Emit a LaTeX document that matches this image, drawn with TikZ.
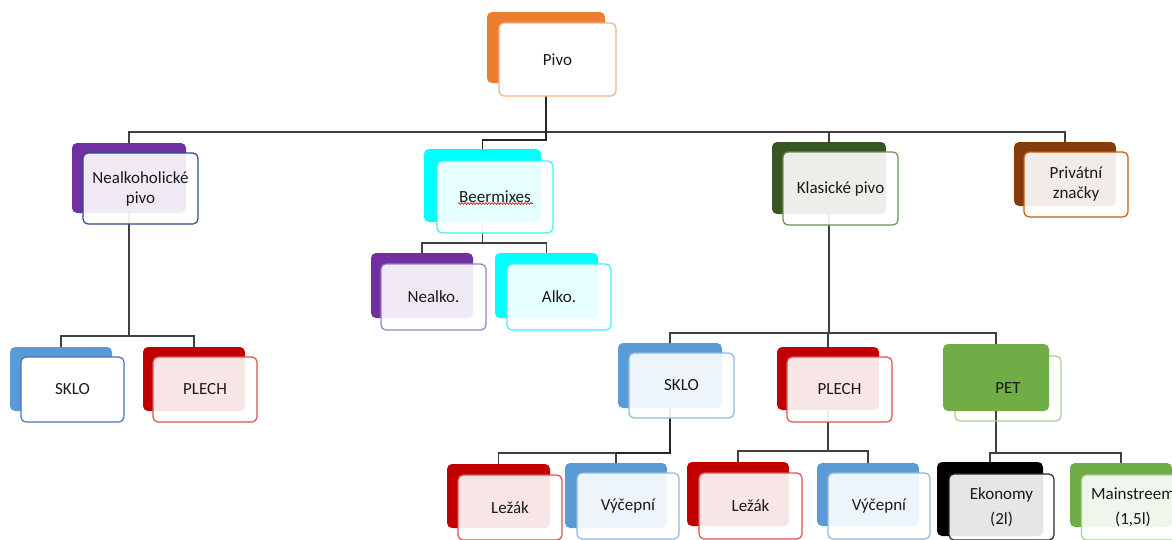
\documentclass[tikz,border=0pt]{standalone}
\usepackage{fontspec}
\setmainfont{Carlito}
\usetikzlibrary{decorations.pathmorphing}
\pgfdeclarelayer{background}
\pgfsetlayers{background,main}

\definecolor{cOrange}{HTML}{ED7D31}
\definecolor{bOrange}{HTML}{F4B183}
\definecolor{cPurple}{HTML}{7030A0}
\definecolor{bNavy}{HTML}{2F4A85}
\definecolor{bPurple}{HTML}{A07CC8}
\definecolor{cCyan}{HTML}{00FFFF}
\definecolor{bCyan}{HTML}{3DF2F2}
\definecolor{cDkGreen}{HTML}{375623}
\definecolor{bOlive}{HTML}{6A9153}
\definecolor{cBrown}{HTML}{843C0C}
\definecolor{bBrown}{HTML}{C55A11}
\definecolor{cBlue}{HTML}{5B9BD5}
\definecolor{bBlue}{HTML}{4472C4}
\definecolor{bLtBlue}{HTML}{8DB8E2}
\definecolor{cRed}{HTML}{C00000}
\definecolor{bRed}{HTML}{E05050}
\definecolor{cGreen}{HTML}{70AD47}
\definecolor{bLtGreen}{HTML}{A9D18E}
\definecolor{bDark}{HTML}{2A2A2A}
\definecolor{txt}{HTML}{1A1A1A}
\definecolor{wire}{HTML}{404040}

\begin{document}
\begin{tikzpicture}[x=1pt,y=-1pt,
  sz/.style 2 args={minimum width=#1pt,minimum height=#2pt},
  back/.style={rounded corners=5pt,inner sep=0pt,fill=#1,draw=none},
  front/.style={rounded corners=5pt,inner sep=0pt,draw=#1,line width=1.2pt,
    fill=white,fill opacity=0.9,text opacity=1,align=center,text=txt,
    font=\fontsize{17}{20}\selectfont},
  solidfront/.style={front=#1,fill opacity=1},
  hollowfront/.style={front=#1,fill=none},
  conn/.style={draw=wire,line width=1.3pt},
  trunk/.style={draw=black!85,line width=1.7pt},
  spell/.style={draw=red!85!black,line width=0.6pt,
    decorate,decoration={snake,amplitude=0.9pt,segment length=3pt}}]

\clip (0,0) rectangle (1172,539);
\useasboundingbox (0,0) rectangle (1172,539);

% bus heights of the connector trees
\coordinate (busA)  at (0,132);
\coordinate (busA2) at (0,140);
\coordinate (busB)  at (0,243);
\coordinate (busC)  at (0,336);
\coordinate (busD)  at (0,333);
\coordinate (busE)  at (0,453);
\coordinate (busF)  at (0,451);
\coordinate (busG)  at (0,453);

% ---------- level 0
\node[back=cOrange,sz={118}{71}] (pivo-b) at (546,47.5) {};
\node[solidfront=bOrange,sz={117}{73}] (pivo) at (557.5,59.5) {Pivo};

% ---------- level 1
\node[back=cPurple,sz={114}{70}] (nealk-b) at (129,178) {};
\node[front=bNavy,sz={115}{71}] (nealk) at (140.5,188.5) {Nealkoholické\\pivo};

\node[back=cCyan,sz={117}{73}] (beer-b) at (482.5,185.5) {};
\node[front=bCyan,sz={116}{72}] (beer) at (495,197) {Beermixes};
\draw[spell] ([xshift=-37pt,yshift=-6.5pt]beer.center) -- ([xshift=38pt,yshift=-6.5pt]beer.center);

\node[back=cDkGreen,sz={114}{72}] (klas-b) at (829,178) {};
\node[front=bOlive,sz={115}{73}] (klas) at (840.5,188.5) {Klasické pivo};

\node[back=cBrown,sz={102}{64}] (priv-b) at (1065,174) {};
\node[front=bBrown,sz={104}{65}] (priv) at (1076,184.5) {Privátní\\značky};

% ---------- level 2
\node[back=cPurple,sz={102}{65}] (nealko-b) at (422,285.5) {};
\node[front=bPurple,sz={105}{66}] (nealko) at (433.5,297) {Nealko.};

\node[back=cCyan,sz={103}{65}] (alko-b) at (546.5,285.5) {};
\node[front=bCyan,sz={104}{66}] (alko) at (559,297) {Alko.};

\node[back=cBlue,sz={102}{64}] (skloL-b) at (61,379) {};
\node[solidfront=bBlue,sz={103}{65}] (skloL) at (72.5,389.5) {SKLO};

\node[back=cRed,sz={102}{64}] (plechL-b) at (194,379) {};
\node[front=bRed,sz={104}{65}] (plechL) at (205,389.5) {PLECH};

\node[back=cBlue,sz={104}{65}] (skloR-b) at (670,375.5) {};
\node[front=bLtBlue,sz={105}{65}] (skloR) at (681.5,385.5) {SKLO};

\node[back=cRed,sz={102}{63}] (plechR-b) at (828,378.5) {};
\node[front=bRed,sz={105}{65}] (plechR) at (839.5,389.5) {PLECH};

% PET: the green card lies above its outline
\node[hollowfront=bLtGreen,sz={106}{65}] (pet-o) at (1008,388.5) {};
\node[back=cGreen,sz={106}{67}] (pet-b) at (996,377.5) {};
\node[text=txt,font=\fontsize{17}{20}\selectfont] (pet) at (1008,388.5) {PET};

% ---------- level 3
\node[back=cRed,sz={103}{64}] (lez1-b) at (498.5,496) {};
\node[front=bRed,sz={104}{65}] (lez1) at (510,507.5) {Ležák};

\node[back=cBlue,sz={102}{65}] (vyc1-b) at (616,495.5) {};
\node[front=bLtBlue,sz={102}{66}] (vyc1) at (628,506) {Výčepní};

\node[back=cRed,sz={102}{64}] (lez2-b) at (738,494) {};
\node[front=bRed,sz={103}{66}] (lez2) at (750.5,506) {Ležák};

\node[back=cBlue,sz={102}{63}] (vyc2-b) at (868,494.5) {};
\node[front=bLtBlue,sz={102}{66}] (vyc2) at (879,506) {Výčepní};

\node[back=black,sz={106}{74}] (eko-b) at (990,499) {};
\node[front=bDark,sz={105}{66},font=\fontsize{17}{25}\selectfont] (eko) at (1001.5,507) {Ekonomy\\(2l)};

\node[back=cGreen,sz={102}{64}] (main-b) at (1121,495) {};
\node[front=bLtGreen,sz={103}{65},font=\fontsize{17}{25}\selectfont] (main) at (1133,507.5) {Mainstreem\\(1,5l)};

% ---------- connectors, drawn beneath the cards
\begin{pgfonlayer}{background}
  \draw[conn] (nealk-b.center) -- (nealk-b.center |- busA) -- (priv-b.center |- busA) -- (priv-b.center);
  \draw[conn] (klas-b.center) -- (klas-b.center |- busA);
  \draw[trunk] (pivo-b.center) -- (pivo-b.center |- busA2) -- (beer-b.center |- busA2) -- (beer-b.center);

  \draw[conn] (nealko-b.center) -- (nealko-b.center |- busB) -- (alko-b.center |- busB) -- (alko-b.center);
  \draw[conn] (beer-b.center) -- (beer-b.center |- busB);

  \draw[conn] (skloL-b.center) -- (skloL-b.center |- busC) -- (plechL-b.center |- busC) -- (plechL-b.center);
  \draw[conn] (nealk-b.center) -- (nealk-b.center |- busC);

  \draw[conn] (skloR-b.center) -- (skloR-b.center |- busD) -- (pet-b.center |- busD) -- (pet-b.center);
  \draw[conn] (klas-b.center) -- (klas-b.center |- busD);
  \draw[conn] (plechR-b.center) -- (plechR-b.center |- busD);

  \draw[conn] (lez1-b.center) -- (lez1-b.center |- busE) -- (vyc1-b.center |- busE) -- (vyc1-b.center);
  \draw[trunk] (skloR-b.center) -- (skloR-b.center |- busE) -- (vyc1-b.center |- busE);

  \draw[conn] (lez2-b.center) -- (lez2-b.center |- busF) -- (vyc2-b.center |- busF) -- (vyc2-b.center);
  \draw[conn] (plechR-b.center) -- (plechR-b.center |- busF);

  \draw[conn] (eko-b.center) -- (eko-b.center |- busG) -- (main-b.center |- busG) -- (main-b.center);
  \draw[conn] (pet-b.center) -- (pet-b.center |- busG);
\end{pgfonlayer}
\end{tikzpicture}
\end{document}
